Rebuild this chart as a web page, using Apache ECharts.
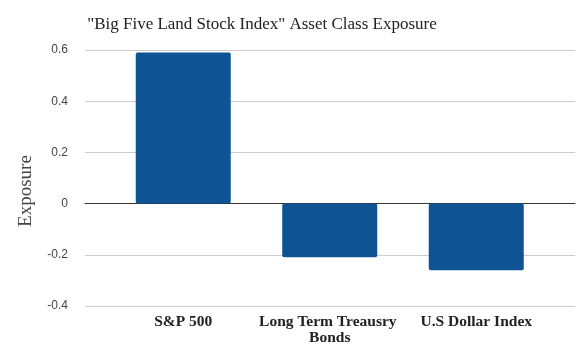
<!DOCTYPE html>
<html><head><meta charset="utf-8">
<script src="https://cdn.jsdelivr.net/npm/echarts@6/dist/echarts.min.js"></script>
<style>html,body{margin:0;padding:0;background:#fff}#c{width:588px;height:355px}</style>
</head><body><div id="c"></div>
<script>
const categories = ["S&P 500", "Long Term Treausry Bonds", "U.S Dollar Index"];
const exposure = [0.59, -0.21, -0.26];
const yTicks = [-0.4, -0.2, 0, 0.2, 0.4, 0.6];

const chart = echarts.init(document.getElementById('c'));
const TOP = 50, BOTTOM = 49;
chart.setOption({
  animation: false,
  backgroundColor: '#fff',
  title: {
    text: '"Big Five Land Stock Index" Asset Class Exposure',
    left: 257, top: 11, textAlign: 'center',
    textStyle: {fontFamily: 'Liberation Serif', fontWeight: 'normal', fontSize: 17, color: '#222'}
  },
  grid: [
    {left: 85, right: 13, top: TOP, bottom: BOTTOM},
    {left: 110, right: 38.5, top: TOP, bottom: BOTTOM}
  ],
  xAxis: [
    {type: 'category', gridIndex: 0, data: [''], axisLabel: {show: false}, axisTick: {show: false},
     axisLine: {show: true, onZero: true, lineStyle: {color: '#333', width: 1}}},
    {type: 'category', gridIndex: 1, data: categories,
     axisTick: {show: false}, axisLine: {show: false, onZero: false},
     axisLabel: {margin: 8, interval: 0, fontFamily: 'Liberation Serif', fontWeight: 'bold', fontSize: 15.5,
       color: '#222', lineHeight: 16, width: 146, overflow: 'break'}}
  ],
  yAxis: [
    {type: 'value', gridIndex: 0, min: -0.4, max: 0.6, interval: 0.2,
     name: 'Exposure', nameLocation: 'middle', nameGap: 49, nameRotate: 90,
     nameTextStyle: {fontFamily: 'Liberation Serif', fontSize: 19, color: '#444', padding: [0, 26, 0, 0]},
     axisLine: {show: false}, axisTick: {show: false},
     splitLine: {lineStyle: {color: '#ccc'}},
     axisLabel: {margin: 17, fontFamily: 'Liberation Sans', fontSize: 12, color: '#444',
       formatter: v => { const t = yTicks.find(x => Math.abs(x - v) < 1e-9); return t === undefined ? '' : String(t); }}},
    {type: 'value', gridIndex: 1, min: -0.4, max: 0.6, interval: 0.2, show: false}
  ],
  series: [{
    type: 'bar', xAxisIndex: 1, yAxisIndex: 1, data: exposure,
    barWidth: 95,
    itemStyle: {color: '#0e5394', borderRadius: 2}
  }]
});
</script></body></html>
